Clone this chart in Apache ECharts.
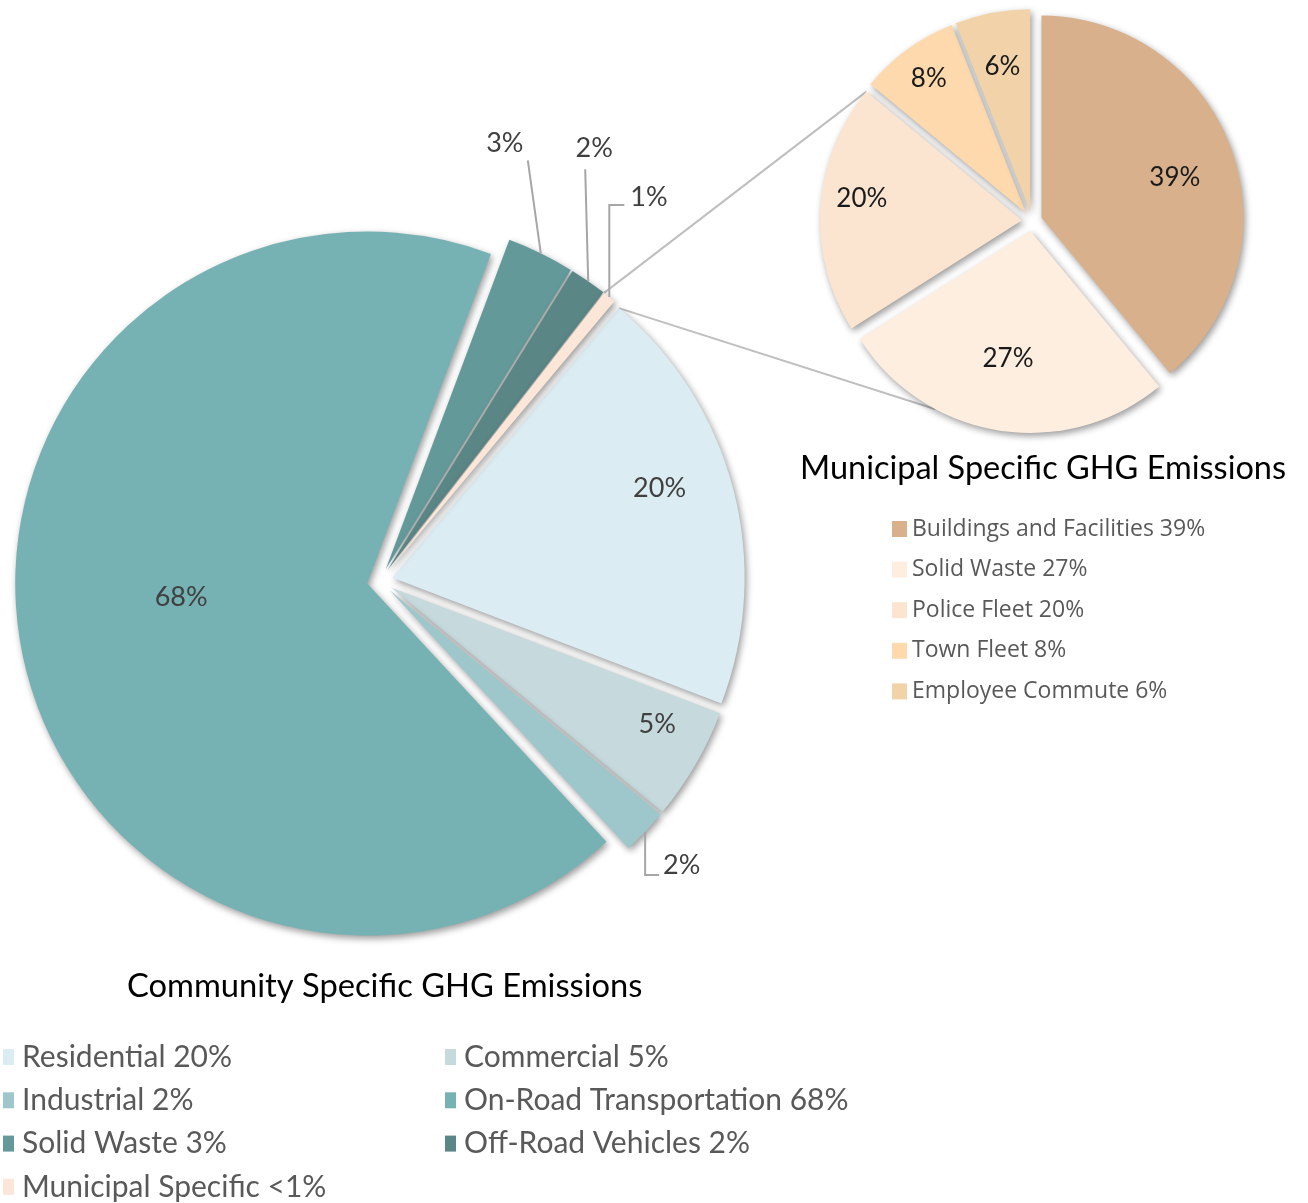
<!DOCTYPE html>
<html>
<head>
<meta charset="utf-8">
<title>GHG Emissions</title>
<script src="https://cdn.jsdelivr.net/npm/echarts@6/dist/echarts.min.js"></script>
<style>
html, body { margin: 0; padding: 0; background: #ffffff; }
#chart { width: 1308px; height: 1203px; }
</style>
</head>
<body>
<div id="chart"></div>
<script>
// community sectors (big pie), share of total in %
const communityCategories = ['Residential', 'Commercial', 'Industrial', 'On-Road Transportation', 'Solid Waste', 'Off-Road Vehicles', 'Municipal Specific'];
const communityValues = [19.7, 5.2, 2.1, 67.6, 3.1, 1.7, 0.6];

// municipal breakdown (small pie), share in %
const municipalCategories = ['Buildings and Facilities', 'Solid Waste', 'Police Fleet', 'Town Fleet', 'Employee Commute'];
const municipalValues = [39, 27, 20, 8, 6];

const communityColors = ['#dbedf2', '#c6d9dd', '#9ec7cb', '#76b2b3', '#64999a', '#5a8685', '#fce6d8'];
const municipalColors = ['#d8b08c', '#fdeedf', '#fce5d0', '#fdd9ad', '#f2d2a8'];

// layout (px) - start angle is clockwise from 12 o'clock
const BIG = { cx: 380, cy: 581, r: 352, offset: 13, start: 40 };
const SMALL = { cx: 1032, cy: 221, r: 202, offset: 10, start: 0 };

// the small pie reuses "Solid Waste", so its names get a prefix
const MUNI = 'm:';

// inside label placement: fraction of radius, angle nudge
const bigInside = {
    'Residential': [0.8, -4],
    'Commercial': [0.85, -3],
    'On-Road Transportation': [0.53, 7]
};
const smallInside = [[0.69, 3], [0.64, 1], [0.8, 4], [0.82, 0], [0.73, 0]];

// leader lines for the thin slices
const bigLeaders = {
    'Industrial': { bend: [0, 43], run: 14, text: [18, 33], align: 'left' },
    'Solid Waste': { bend: [-13, -93], run: 0, text: [-36, -110], align: 'center' },
    'Off-Road Vehicles': { bend: [-3, -112], run: 0, text: [6, -133], align: 'center' },
    'Municipal Specific': { bend: [0, -92], run: 15, text: [21, -100], align: 'left' }
};

function sum(arr) {
    return arr.reduce((a, b) => a + b, 0);
}

function slices(values, start) {
    let total = sum(values);
    let acc = start;
    return values.map((v) => {
        let span = (v / total) * 360;
        let s = { a0: acc, a1: acc + span, mid: acc + span / 2, pct: (v / total) * 100 };
        acc += span;
        return s;
    });
}

function rad(deg) {
    return (deg * Math.PI) / 180;
}

// point on exploded slice at radius r and angle deg
function point(g, s, r, deg) {
    return [
        g.cx + r * Math.sin(rad(deg)) + g.offset * Math.sin(rad(s.mid)),
        g.cy - r * Math.cos(rad(deg)) - g.offset * Math.cos(rad(s.mid))
    ];
}

function pctLabel(p) {
    return Math.round(p) + '%';
}

function legendPct(p) {
    return p < 1 ? '<1%' : Math.round(p) + '%';
}

const bigSlices = slices(communityValues, BIG.start);
const smallSlices = slices(municipalValues, SMALL.start);

// label placements computed from the slice geometry
let placements = [[], []];
communityCategories.forEach((name, i) => {
    let s = bigSlices[i];
    if (bigInside[name]) {
        let f = bigInside[name];
        let p = point(BIG, s, BIG.r * f[0], s.mid + f[1]);
        placements[0][i] = { x: p[0], y: p[1], align: 'center' };
    } else {
        let L = bigLeaders[name];
        let p0 = point(BIG, s, BIG.r, s.mid);
        let p1 = [p0[0] + L.bend[0], p0[1] + L.bend[1]];
        let pts = [p0, p1];
        if (L.run) pts.push([p1[0] + L.run, p1[1]]);
        placements[0][i] = { x: p0[0] + L.text[0], y: p0[1] + L.text[1], align: L.align, points: pts };
    }
});
municipalCategories.forEach((name, i) => {
    let s = smallSlices[i];
    let f = smallInside[i];
    let p = point(SMALL, s, SMALL.r * f[0], s.mid + f[1]);
    placements[1][i] = { x: p[0], y: p[1], align: 'center' };
});

// legend texts
let legendText = {};
communityCategories.forEach((name, i) => {
    legendText[name] = name + ' ' + legendPct(bigSlices[i].pct);
});
municipalCategories.forEach((name, i) => {
    legendText[MUNI + name] = name + ' ' + legendPct(smallSlices[i].pct);
});

// connector lines from the municipal slice to the small pie
let muniIdx = communityCategories.indexOf('Municipal Specific');
let muniSlice = bigSlices[muniIdx];
let resSlice = bigSlices[0];
let policeSlice = smallSlices[2];
let wasteSlice = smallSlices[1];
let c1a = point(BIG, muniSlice, BIG.r, muniSlice.a0);
let c1b = point(SMALL, policeSlice, SMALL.r, policeSlice.a1);
let c2a = point(BIG, resSlice, BIG.r, resSlice.a0);
let c2b = point(SMALL, wasteSlice, SMALL.r, 208);

const shadow = {
    shadowBlur: 7,
    shadowOffsetX: 2,
    shadowOffsetY: 3,
    shadowColor: 'rgba(0, 0, 0, 0.4)'
};

const labelFont = "Lato, 'Noto Sans', sans-serif";
const narrowFont = "'Liberation Sans Narrow', 'Arial Narrow', Lato, sans-serif";

// exploded slices (selected state gives the offset), no labels here
function pieSeries(name, g, names, values, colors) {
    return {
        name: name,
        type: 'pie',
        center: [g.cx, g.cy],
        radius: g.r,
        startAngle: 90 - g.start,
        clockwise: true,
        selectedMode: 'multiple',
        selectedOffset: g.offset,
        silent: true,
        z: 3,
        emphasis: { disabled: true },
        itemStyle: shadow,
        label: { show: false },
        labelLine: { show: false },
        data: names.map((n, i) => ({
            name: n,
            value: values[i],
            selected: true,
            itemStyle: { color: colors[i] }
        }))
    };
}

// same pie again, transparent, carrying the labels (select state would pin them)
function labelSeries(idx, g, names, values, sl, font, showLine) {
    return {
        name: 'labels' + idx,
        type: 'pie',
        center: [g.cx, g.cy],
        radius: g.r,
        startAngle: 90 - g.start,
        clockwise: true,
        avoidLabelOverlap: false,
        silent: true,
        z: 5,
        emphasis: { disabled: true },
        itemStyle: { color: 'rgba(0,0,0,0)' },
        label: Object.assign({ show: true, formatter: (p) => pctLabel(sl[p.dataIndex].pct) }, font),
        labelLine: { show: false, lineStyle: { color: '#a6a6a6', width: 2 } },
        labelLayout: (p) => {
            let pl = placements[idx][p.dataIndex];
            let out = { x: pl.x, y: pl.y, align: pl.align, verticalAlign: 'middle' };
            if (pl.points) out.labelLinePoints = pl.points;
            return out;
        },
        data: names.map((n, i) => ({
            name: n,
            value: values[i],
            labelLine: { show: showLine(i) }
        }))
    };
}

function bottomLegend(names, left) {
    return {
        data: names,
        orient: 'vertical',
        left: left,
        top: 1042,
        height: 175,
        padding: 0,
        icon: 'rect',
        itemWidth: 11,
        itemHeight: 16,
        itemGap: 13.3,
        selectedMode: false,
        formatter: (name) => legendText[name],
        textStyle: { fontFamily: narrowFont, fontSize: 30, color: '#595959', padding: [0, 0, 0, 3] }
    };
}

let chart = echarts.init(document.getElementById('chart'), null, { renderer: 'canvas' });

let option = {
    animation: false,
    backgroundColor: '#ffffff',
    title: [
        {
            text: 'Community Specific GHG Emissions',
            left: 127,
            top: 970,
            padding: 0,
            textStyle: { fontFamily: labelFont, fontSize: 32.7, fontWeight: 'normal', color: '#000000' }
        },
        {
            text: 'Municipal Specific GHG Emissions',
            left: 800,
            top: 452,
            padding: 0,
            textStyle: { fontFamily: labelFont, fontSize: 32.5, fontWeight: 'normal', color: '#000000' }
        }
    ],
    legend: [
        bottomLegend(['Residential', 'Industrial', 'Solid Waste', 'Municipal Specific'], 3),
        bottomLegend(['Commercial', 'On-Road Transportation', 'Off-Road Vehicles'], 445),
        {
            data: municipalCategories.map((n) => MUNI + n),
            orient: 'vertical',
            left: 892,
            top: 517.5,
            padding: 0,
            icon: 'rect',
            itemWidth: 15,
            itemHeight: 16,
            itemGap: 17.6,
            selectedMode: false,
            formatter: (name) => legendText[name],
            textStyle: { fontFamily: "'Open Sans', 'Noto Sans', sans-serif", fontSize: 23, color: '#595959' }
        }
    ],
    graphic: [
        {
            type: 'line',
            z: 0,
            silent: true,
            shape: { x1: c1a[0], y1: c1a[1], x2: c1b[0], y2: c1b[1] },
            style: { stroke: '#bfbfbf', lineWidth: 2 }
        },
        {
            type: 'line',
            z: 0,
            silent: true,
            shape: { x1: c2a[0], y1: c2a[1], x2: c2b[0], y2: c2b[1] },
            style: { stroke: '#bfbfbf', lineWidth: 2 }
        }
    ],
    series: [
        pieSeries('Community', BIG, communityCategories, communityValues, communityColors),
        pieSeries('Municipal', SMALL, municipalCategories.map((n) => MUNI + n), municipalValues, municipalColors),
        labelSeries(0, BIG, communityCategories, communityValues, bigSlices,
            { fontFamily: labelFont, fontSize: 27, color: '#404040' },
            (i) => !bigInside[communityCategories[i]]),
        labelSeries(1, SMALL, municipalCategories.map((n) => MUNI + n), municipalValues, smallSlices,
            { fontFamily: labelFont, fontSize: 26, color: '#1a1a1a' },
            () => false)
    ]
};

chart.setOption(option);
</script>
</body>
</html>
